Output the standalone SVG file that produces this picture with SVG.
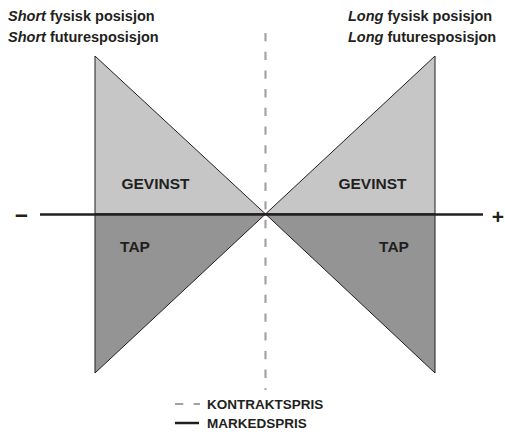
<svg xmlns="http://www.w3.org/2000/svg" width="505" height="434" viewBox="0 0 505 434">
  <style>
    .lbl { font-family: "Liberation Sans", Arial, sans-serif; font-weight: bold; fill: #231f20; }
    .hdr { font-size: 14.5px; }
    .zone { font-size: 15.5px; }
    .leg { font-size: 13.5px; }
    .gain { fill: #c6c6c6; stroke: #231f20; stroke-width: 1; stroke-linejoin: miter; }
    .loss { fill: #949494; stroke: #231f20; stroke-width: 1; stroke-linejoin: miter; }
    .market { stroke: #231f20; stroke-width: 2.5; fill: none; }
    .contract { stroke: #a3a3a3; stroke-width: 2.2; fill: none; stroke-dasharray: 8.3 10.4; }
  </style>

  <!-- headings -->
  <g id="heading-short">
    <text class="lbl hdr" x="8" y="21"><tspan font-style="italic">Short</tspan> fysisk posisjon</text>
    <text class="lbl hdr" x="8" y="42"><tspan font-style="italic">Short</tspan> futuresposisjon</text>
  </g>
  <g id="heading-long">
    <text class="lbl hdr" x="348" y="21"><tspan font-style="italic">Long</tspan> fysisk posisjon</text>
    <text class="lbl hdr" x="348" y="42"><tspan font-style="italic">Long</tspan> futuresposisjon</text>
  </g>

  <!-- pay-off areas -->
  <g id="short-position">
    <polygon class="gain" points="95,56 95,214 265.5,214"/>
    <polygon class="loss" points="95,214 265.5,214 95,373"/>
  </g>
  <g id="long-position">
    <polygon class="gain" points="435,56 435,214 265.5,214"/>
    <polygon class="loss" points="435,214 265.5,214 435,373"/>
  </g>

  <!-- price lines -->
  <g id="connectors">
    <line class="contract" x1="265.5" y1="33" x2="265.5" y2="390"/>
    <line class="market" x1="40" y1="214.5" x2="483" y2="214.5"/>
  </g>

  <!-- area labels -->
  <g id="labels">
    <text class="lbl zone" x="155.5" y="189" text-anchor="middle">GEVINST</text>
    <text class="lbl zone" x="372.5" y="189" text-anchor="middle">GEVINST</text>
    <text class="lbl zone" x="135" y="251.5" text-anchor="middle">TAP</text>
    <text class="lbl zone" x="394" y="251.5" text-anchor="middle">TAP</text>
    <text class="lbl" x="21.5" y="221.5" font-size="23" text-anchor="middle">–</text>
    <text class="lbl" x="498" y="224" font-size="21" text-anchor="middle">+</text>
  </g>

  <!-- legend -->
  <g id="legend">
    <line class="contract" x1="175" y1="404" x2="200" y2="404" stroke-dasharray="7.5 9.5"/>
    <text class="lbl leg" x="207" y="409">KONTRAKTSPRIS</text>
    <line class="market" x1="175" y1="423" x2="199" y2="423"/>
    <text class="lbl leg" x="207" y="428">MARKEDSPRIS</text>
  </g>
</svg>
